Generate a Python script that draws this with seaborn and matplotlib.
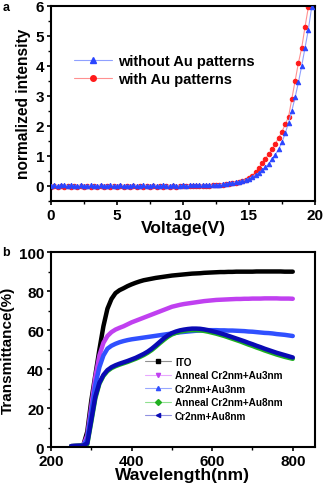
import numpy as np
import pandas as pd
import seaborn as sns
import matplotlib.pyplot as plt
from matplotlib.lines import Line2D
from matplotlib.ticker import MultipleLocator

# ---- panel a: normalized intensity vs voltage ----
voltage = [0.0, 0.25, 0.5, 0.75, 1.0, 1.25, 1.5, 1.75, 2.0, 2.25, 2.5, 2.75,
           3.0, 3.25, 3.5, 3.75, 4.0, 4.25, 4.5, 4.75, 5.0, 5.25, 5.5, 5.75,
           6.0, 6.25, 6.5, 6.75, 7.0, 7.25, 7.5, 7.75, 8.0, 8.25, 8.5, 8.75,
           9.0, 9.25, 9.5, 9.75, 10.0, 10.25, 10.5, 10.75, 11.0, 11.25, 11.5, 11.75,
           12.0, 12.25, 12.5, 12.75, 13.0, 13.25, 13.5, 13.75, 14.0, 14.25, 14.5, 14.75,
           15.0, 15.25, 15.5, 15.75, 16.0, 16.25, 16.5, 16.75, 17.0, 17.25, 17.5, 17.75,
           18.0, 18.25, 18.5, 18.75, 19.0, 19.25, 19.5, 19.75]
without_au = [0.0, 0.01, 0.0, 0.01, 0.02, 0.0, 0.01, 0.0, 0.0, 0.01, 0.0, 0.0,
              0.01, 0.0, 0.0, 0.01, 0.0, 0.0, 0.01, 0.0, 0.0, 0.01, 0.0, 0.0,
              0.0, 0.01, 0.0, 0.0, 0.01, 0.0, 0.0, 0.01, 0.0, 0.0, 0.01, 0.0,
              0.0, 0.01, 0.0, 0.0, 0.01, 0.0, 0.01, 0.01, 0.01, 0.02, 0.02, 0.02,
              0.02, 0.02, 0.03, 0.04, 0.05, 0.06, 0.08, 0.10, 0.12, 0.14, 0.17, 0.20,
              0.24, 0.30, 0.36, 0.43, 0.52, 0.62, 0.74, 0.88, 1.04, 1.22, 1.45, 1.75,
              2.10, 2.50, 2.95, 3.45, 4.00, 4.60, 5.20, 5.95]
with_au = [-0.03, -0.02, -0.03, -0.02, -0.03, -0.02, -0.03, -0.02, -0.03, -0.02, -0.03, -0.02,
           -0.03, -0.02, -0.03, -0.02, -0.03, -0.02, -0.03, -0.02, -0.03, -0.02, -0.03, -0.02,
           -0.03, -0.02, -0.03, -0.02, -0.03, -0.02, -0.03, -0.02, -0.03, -0.02, -0.03, -0.02,
           -0.03, -0.02, -0.03, -0.02, -0.02, -0.02, -0.01, -0.01, -0.01, 0.0, 0.0, 0.0,
           0.0, 0.01, 0.01, 0.02, 0.03, 0.05, 0.07, 0.09, 0.10, 0.13, 0.15, 0.20,
           0.25, 0.34, 0.45, 0.58, 0.75, 0.90, 1.05, 1.22, 1.40, 1.60, 1.80, 2.05,
           2.30, 2.90, 3.50, 4.10, 4.60, 5.30, 5.95]

# ---- panel b: transmittance vs wavelength ----
wavelength = [250, 260, 270, 280, 290, 300, 310, 320, 330, 340, 350, 360, 370, 380,
              390, 400, 410, 420, 430, 440, 450, 460, 470, 480, 490, 500, 510, 520,
              530, 540, 550, 560, 570, 580, 590, 600, 610, 620, 630, 640, 650, 660,
              670, 680, 690, 700, 710, 720, 730, 740, 750, 760, 770, 780, 790, 800]
ito = [0.5, 0.6, 0.7, 0.9, 8.0, 24.0, 37.0, 50.0, 62.0, 71.0, 76.0, 79.0, 80.5, 81.5,
       82.6, 83.5, 84.3, 85.0, 85.6, 86.0, 86.4, 86.8, 87.1, 87.4, 87.7, 88.0, 88.2, 88.4,
       88.6, 88.8, 89.0, 89.1, 89.2, 89.4, 89.5, 89.6, 89.7, 89.8, 89.8, 89.9, 89.9, 90.0,
       90.0, 90.0, 90.0, 90.0, 90.1, 90.1, 90.1, 90.1, 90.1, 90.1, 90.1, 90.0, 90.0, 90.0]
anneal_au3 = [0.5, 0.6, 0.7, 0.9, 6.0, 21.0, 36.0, 47.0, 53.5, 57.0, 59.0, 60.3, 61.2, 62.0,
              63.0, 64.0, 64.8, 65.6, 66.4, 67.2, 68.0, 68.8, 69.6, 70.4, 71.2, 72.0, 72.5, 73.0,
              73.4, 73.7, 74.0, 74.3, 74.6, 74.9, 75.1, 75.3, 75.5, 75.6, 75.7, 75.8, 75.9, 76.0,
              76.0, 76.1, 76.1, 76.2, 76.2, 76.2, 76.3, 76.3, 76.3, 76.3, 76.2, 76.2, 76.2, 76.1]
cr_au3 = [0.5, 0.6, 0.7, 0.9, 4.0, 18.0, 32.0, 41.0, 47.0, 50.5, 52.0, 53.0, 53.8, 54.4,
          54.9, 55.3, 55.6, 55.9, 56.2, 56.5, 56.8, 57.1, 57.4, 57.7, 58.0, 58.3, 58.6, 58.9,
          59.1, 59.3, 59.5, 59.7, 59.8, 59.9, 60.0, 60.0, 60.0, 59.9, 59.9, 59.8, 59.8, 59.7,
          59.6, 59.5, 59.3, 59.2, 59.0, 58.8, 58.6, 58.5, 58.3, 58.0, 57.8, 57.6, 57.3, 57.0]
anneal_au8 = [0.5, 0.6, 0.7, 0.8, 1.5, 13.0, 25.0, 32.5, 36.5, 39.0, 40.5, 41.5, 42.3, 43.0,
              43.7, 44.5, 45.3, 46.2, 47.2, 48.4, 49.8, 51.5, 53.3, 55.0, 56.6, 57.8, 58.6, 59.2,
              59.6, 59.9, 60.0, 60.0, 59.9, 59.6, 59.2, 58.7, 58.2, 57.6, 57.0, 56.3, 55.6, 54.9,
              54.2, 53.4, 52.6, 51.9, 51.1, 50.4, 49.6, 48.9, 48.2, 47.5, 46.9, 46.3, 45.8, 45.3]
cr_au8 = [0.5, 0.6, 0.7, 0.8, 2.0, 14.0, 26.0, 33.0, 37.0, 39.5, 41.0, 42.0, 42.8, 43.5,
          44.2, 45.0, 45.8, 46.8, 47.8, 49.0, 50.5, 52.2, 54.0, 55.8, 57.3, 58.5, 59.3, 59.9,
          60.3, 60.6, 60.8, 60.8, 60.7, 60.4, 60.0, 59.5, 59.0, 58.4, 57.8, 57.1, 56.4, 55.7,
          55.0, 54.3, 53.5, 52.8, 52.0, 51.3, 50.5, 49.8, 49.1, 48.4, 47.8, 47.2, 46.6, 46.0]

sns.set_style("ticks")
plt.rcParams["font.family"] = ["Liberation Sans", "DejaVu Sans"]
plt.rcParams["font.weight"] = "bold"
plt.rcParams["axes.linewidth"] = 1.5
for key in ("text.color", "axes.labelcolor", "xtick.color", "ytick.color", "axes.edgecolor"):
    plt.rcParams[key] = "black"

fig = plt.figure(figsize=(3.23, 4.85), dpi=100)
ax1 = fig.add_axes([0.158, 0.584, 0.817, 0.402])
ax2 = fig.add_axes([0.158, 0.076, 0.817, 0.402])

# panel a
sns.lineplot(x=voltage, y=without_au, ax=ax1, color="#8fa0ff", lw=0.8, marker="^",
             markersize=3.2, markerfacecolor="#2a45ff", markeredgecolor="#2a45ff", zorder=3)
sns.lineplot(x=voltage[:len(with_au)], y=with_au, ax=ax1, color="#ff9090", lw=0.8, marker="o",
             markersize=3.2, markerfacecolor="#ff1a1a", markeredgecolor="#ff1a1a", zorder=2)
ax1.set_xlim(0, 20)
ax1.set_ylim(-0.5, 6)
ax1.xaxis.set_major_locator(MultipleLocator(5))
ax1.xaxis.set_minor_locator(MultipleLocator(2.5))
ax1.yaxis.set_major_locator(MultipleLocator(1))
ax1.yaxis.set_minor_locator(MultipleLocator(0.5))
ax1.set_xlabel("Voltage(V)", fontsize=12.5, fontweight="bold", labelpad=-1)
ax1.set_ylabel("normalized intensity", fontsize=11.2, fontweight="bold", labelpad=3)
handles_a = [
    Line2D([], [], color="#8fa0ff", lw=0.8, marker="^", markersize=4,
           markerfacecolor="#2a45ff", markeredgecolor="#2a45ff"),
    Line2D([], [], color="#ff9090", lw=0.8, marker="o", markersize=4,
           markerfacecolor="#ff1a1a", markeredgecolor="#ff1a1a"),
]
ax1.legend(handles_a, ["without Au patterns", "with Au patterns"], loc="upper left",
           bbox_to_anchor=(0.05, 0.805), frameon=False, handlelength=2.6,
           handletextpad=0.4, labelspacing=0.25, borderpad=0.2,
           prop={"weight": "bold", "size": 10.5})

# panel b
series_b = [
    ("ITO", ito, "black", "s"),
    ("Anneal Cr2nm+Au3nm", anneal_au3, "#c040f0", "v"),
    ("Cr2nm+Au3nm", cr_au3, "#3050ff", "^"),
    ("Anneal Cr2nm+Au8nm", anneal_au8, "#20b020", "D"),
    ("Cr2nm+Au8nm", cr_au8, "#0a0ab4", "<"),
]
pale = {"black": "#909090", "#c040f0": "#e8a8ff", "#3050ff": "#98a8ff",
        "#20b020": "#90e090", "#0a0ab4": "#9090e0"}
handles_b = []
for label, vals, col, mk in series_b:
    sns.lineplot(x=wavelength, y=vals, ax=ax2, color=col, lw=3.2, solid_capstyle="round")
    handles_b.append(Line2D([], [], color=pale[col], lw=0.8, marker=mk, markersize=3,
                            markerfacecolor=col, markeredgecolor=col))
ax2.set_xlim(200, 855)
ax2.set_ylim(0, 100)
ax2.xaxis.set_major_locator(MultipleLocator(200))
ax2.xaxis.set_minor_locator(MultipleLocator(100))
ax2.yaxis.set_major_locator(MultipleLocator(20))
ax2.yaxis.set_minor_locator(MultipleLocator(10))
ax2.set_xlabel("Wavelength(nm)", fontsize=12.5, fontweight="bold", labelpad=-1)
ax2.set_ylabel("Transmittance(%)", fontsize=11, fontweight="bold", labelpad=3)
ax2.legend(handles_b, [s[0] for s in series_b], loc="lower left",
           bbox_to_anchor=(0.33, 0.1), frameon=False, handlelength=2.6,
           handletextpad=0.4, labelspacing=0.35, borderpad=0.2,
           prop={"weight": "bold", "size": 7.2})

for ax in (ax1, ax2):
    ax.tick_params(axis="both", which="major", direction="out", length=3, width=1.2,
                   labelsize=11, pad=2)
    ax.tick_params(axis="both", which="minor", direction="out", length=2, width=1)
    for lab in ax.get_xticklabels() + ax.get_yticklabels():
        lab.set_fontweight("bold")
    for sp in ax.spines.values():
        sp.set_visible(True)

fig.text(0.008, 0.995, "a", fontsize=9, fontweight="bold", va="top")
fig.text(0.008, 0.49, "b", fontsize=9, fontweight="bold", va="top")

fig.savefig("out.png", dpi=100)
